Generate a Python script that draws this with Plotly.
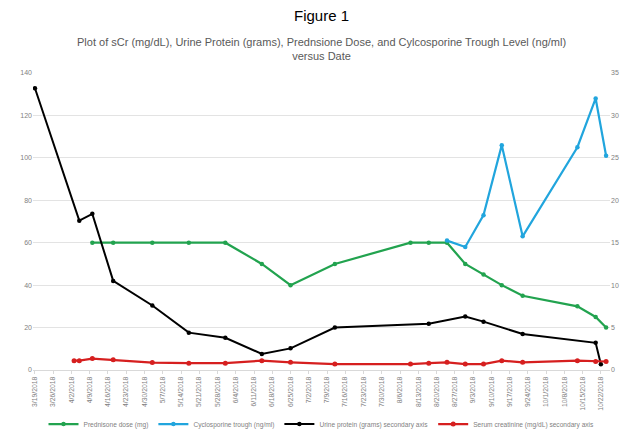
import plotly.graph_objects as go

# ---- data ----
pred_dates = ["2018-04-10", "2018-04-18", "2018-05-03", "2018-05-17", "2018-05-31", "2018-06-14",
              "2018-06-25", "2018-07-12", "2018-08-10", "2018-08-17", "2018-08-24", "2018-08-31",
              "2018-09-07", "2018-09-14", "2018-09-22", "2018-10-13", "2018-10-20", "2018-10-24"]
pred_mg = [60, 60, 60, 60, 60, 50, 40, 50, 60, 60, 60, 50, 45, 40, 35, 30, 25, 20]

cyc_dates = ["2018-08-24", "2018-08-31", "2018-09-07", "2018-09-14", "2018-09-22",
             "2018-10-13", "2018-10-20", "2018-10-24"]
cyc_trough = [61, 58, 73, 106, 63, 105, 128, 101]

prot_dates = ["2018-03-19", "2018-04-05", "2018-04-10", "2018-04-18", "2018-05-03", "2018-05-17",
              "2018-05-31", "2018-06-14", "2018-06-25", "2018-07-12", "2018-08-17", "2018-08-31",
              "2018-09-07", "2018-09-22", "2018-10-20", "2018-10-22"]
prot_g = [33.2, 17.6, 18.4, 10.5, 7.6, 4.4, 3.8, 1.9, 2.55, 5.0, 5.45, 6.3, 5.7, 4.25, 3.2, 0.67]

scr_dates = ["2018-04-03", "2018-04-05", "2018-04-10", "2018-04-18", "2018-05-03", "2018-05-17",
             "2018-05-31", "2018-06-14", "2018-06-25", "2018-07-12", "2018-08-10", "2018-08-17",
             "2018-08-24", "2018-08-31", "2018-09-07", "2018-09-14", "2018-09-22", "2018-10-13",
             "2018-10-20", "2018-10-24"]
scr_mg_dl = [1.1, 1.1, 1.35, 1.2, 0.87, 0.8, 0.8, 1.1, 0.9, 0.7, 0.7, 0.8, 0.9, 0.7, 0.7,
             1.1, 0.9, 1.1, 1.0, 1.0]

names = ["Prednisone dose (mg)", "Cyclosporine trough (ng/ml)",
         "Urine protein (grams) secondary axis", "Serum creatinine (mg/dL) secondary axis"]

title_main = "Figure 1"
title_sub = ("Plot of sCr (mg/dL), Urine Protein (grams), Prednsione Dose, and Cylcosporine "
             "Trough Level (ng/ml)<br>versus Date")

FONT = "Liberation Sans"
GRAY = "#7f7f7f"

fig = go.Figure()
fig.add_trace(go.Scatter(x=pred_dates, y=pred_mg, name=names[0], mode="lines+markers",
                         line=dict(color="#22a34f", width=2.2),
                         marker=dict(size=4.5, color="#22a34f"), yaxis="y"))
fig.add_trace(go.Scatter(x=cyc_dates, y=cyc_trough, name=names[1], mode="lines+markers",
                         line=dict(color="#21a5dd", width=2.2),
                         marker=dict(size=4.5, color="#21a5dd"), yaxis="y"))
fig.add_trace(go.Scatter(x=prot_dates, y=prot_g, name=names[2], mode="lines+markers",
                         line=dict(color="#000000", width=2),
                         marker=dict(size=4.5, color="#000000"), yaxis="y2"))
fig.add_trace(go.Scatter(x=scr_dates, y=scr_mg_dl, name=names[3], mode="lines+markers",
                         line=dict(color="#d61f1f", width=2.2),
                         marker=dict(size=5, color="#d61f1f"), yaxis="y2"))

fig.update_layout(
    width=636, height=431,
    margin=dict(l=33, r=26, t=73, b=61, autoexpand=False),
    paper_bgcolor="white", plot_bgcolor="white",
    font=dict(family=FONT, color=GRAY, size=7),
    showlegend=True,
    legend=dict(orientation="h", x=0.5, xanchor="center", y=-0.182, yanchor="middle",
                font=dict(size=6.6, color=GRAY), itemwidth=30, tracegroupgap=0),
    xaxis=dict(type="date", range=["2018-03-18 06:00", "2018-10-25 12:00"],
               tickmode="linear", tick0="2018-03-19", dtick=7 * 86400000,
               tickformat="%-m/%-d/%Y", tickangle=-90, tickfont=dict(size=6.8, color=GRAY),
               showgrid=False, showline=True, linecolor="#d9d9d9", linewidth=1,
               ticks="outside", ticklen=3, tickcolor="#d9d9d9", zeroline=False,
               automargin=False),
    yaxis=dict(range=[0, 140], dtick=20, showgrid=True, gridcolor="#e3e3e3", gridwidth=1,
               zeroline=False, showline=False, tickfont=dict(size=7, color=GRAY), ticks="",
               automargin=False),
    yaxis2=dict(range=[0, 35], dtick=5, overlaying="y", side="right", showgrid=False,
                zeroline=False, showline=False, tickfont=dict(size=7, color=GRAY), ticks="",
                automargin=False),
    annotations=[
        dict(text=title_main, xref="paper", yref="paper", x=0.5, y=1.195, showarrow=False,
             xanchor="center", yanchor="middle", font=dict(size=15, color="#000000", family=FONT)),
        dict(text=title_sub, xref="paper", yref="paper", x=0.5, y=1.082, showarrow=False,
             xanchor="center", yanchor="middle", font=dict(size=11, color="#595959", family=FONT)),
    ],
)

fig.write_html("out.html", config={"displayModeBar": False},
               post_script="document.body.style.margin='0';")
